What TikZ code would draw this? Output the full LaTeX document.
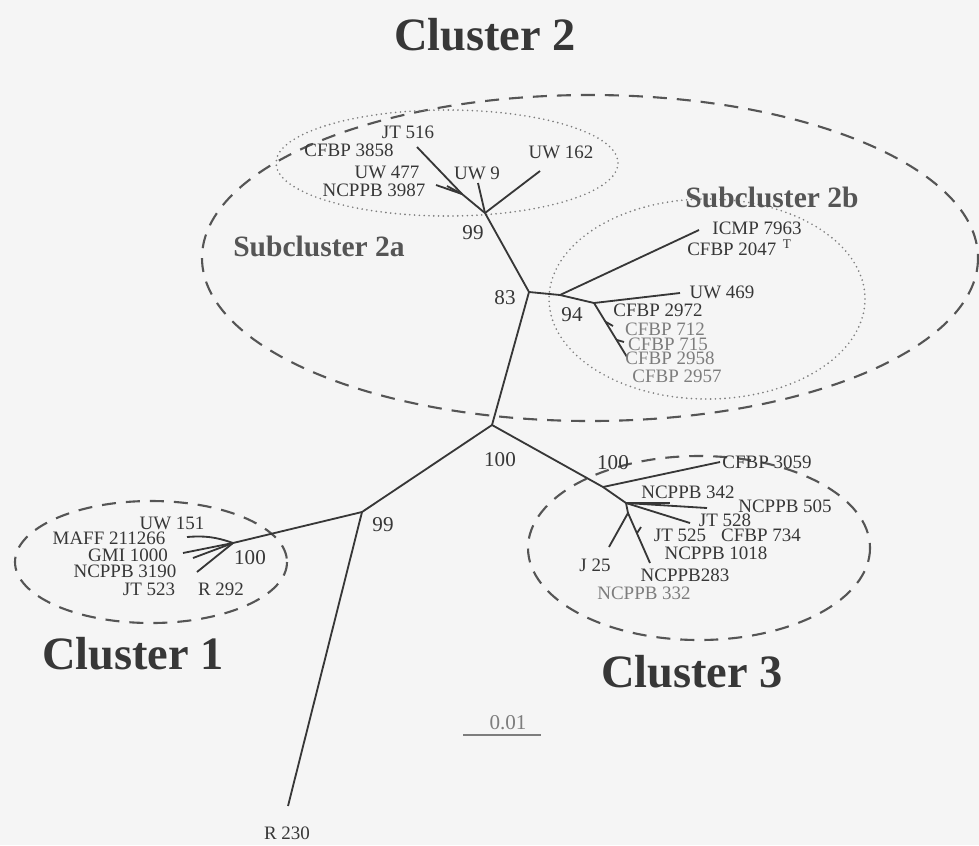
\documentclass[tikz,border=0pt]{standalone}
\usepackage{fontspec}
\setmainfont{Liberation Serif}
\usetikzlibrary{positioning}
\definecolor{ink}{RGB}{55,55,55}
\definecolor{faint}{RGB}{125,125,125}
\definecolor{paper}{RGB}{245,245,245}
\definecolor{hull}{RGB}{85,85,85}

\begin{document}
\begin{tikzpicture}[x=0.25mm, y=-0.25mm,
  branch/.style={draw=ink, line width=1.3pt},
  tip/.style={text=ink, font=\fontsize{13.5}{14}\selectfont, inner sep=0pt},
  tipfaint/.style={tip, text=faint},
  boot/.style={text=ink, font=\fontsize{15}{16}\selectfont, inner sep=0pt},
  sub/.style={text=ink!85, font=\bfseries\fontsize{21}{22}\selectfont, inner sep=0pt},
  clus/.style={text=ink, font=\bfseries\fontsize{33}{35}\selectfont, inner sep=0pt, anchor=base},
  hulldash/.style={draw=hull, line width=1.5pt, dash pattern=on 3.5mm off 2.5mm},
  hulldot/.style={draw=faint, line width=1.3pt, line cap=round, dash pattern=on 0pt off 1.2mm}]
  \fill[paper] (0,0) rectangle (979,845);
  \useasboundingbox (0,0) rectangle (979,845);
  % cluster outlines
  \draw[hulldash] (590,258) ellipse [x radius=388, y radius=163];
  \draw[hulldot]  (447,163) ellipse [x radius=171, y radius=53];
  \draw[hulldot]  (707,299) ellipse [x radius=158, y radius=100];
  \draw[hulldash] (699,548) ellipse [x radius=171, y radius=92];
  \draw[hulldash] (151,562) ellipse [x radius=136, y radius=61];
  % inner nodes
  \coordinate (root) at (492,425);
  \coordinate (n83)  at (529,292);
  \coordinate (n99a) at (485,213);
  \coordinate (n2a)  at (462,194);
  \coordinate (n2b)  at (560,295);
  \coordinate (n94)  at (594,303);
  \coordinate (n712) at (606,322);
  \coordinate (n715) at (617,340);
  \coordinate (n100b) at (603,487);
  \coordinate (n3c)  at (626,503);
  \coordinate (n3d)  at (628,513);
  \coordinate (n525) at (637,533);
  \coordinate (n99c) at (362,512);
  \coordinate (n100a) at (233,543);
  % tips
  \coordinate (e516)  at (417,147);
  \coordinate (e3987) at (436,185);
  \coordinate (e477)  at (447,186);
  \coordinate (e9)    at (478,183);
  \coordinate (e162)  at (540,171);
  \coordinate (e7963) at (699,230);
  \coordinate (e469)  at (680,293);
  \coordinate (e712)  at (613,326);
  \coordinate (e715)  at (624,342);
  \coordinate (e2958) at (627,357);
  \coordinate (e3059) at (720,462);
  \coordinate (e342)  at (670,503);
  \coordinate (e505)  at (707,508);
  \coordinate (e528)  at (690,523);
  \coordinate (e525)  at (641,527);
  \coordinate (ej25)  at (609,547);
  \coordinate (e283)  at (650,563);
  \coordinate (e230)  at (288,806);
  \coordinate (e151)  at (187,537);
  \coordinate (e1000) at (183,553);
  \coordinate (e1000b) at (193,558);
  \coordinate (e3190) at (197,572);
  % branches
  \draw[branch] (root) -- (n83) -- (n99a);
  \draw[branch] (n99a) -- (e162);
  \draw[branch] (n99a) -- (e9);
  \draw[branch] (n99a) -- (n2a) -- (e516);
  \draw[branch] (n2a) -- (e3987);
  \draw[branch] (n2a) -- (e477);
  \draw[branch] (n83) -- (n2b) -- (n94);
  \draw[branch] (n2b) -- (e7963);
  \draw[branch] (n94) -- (e469);
  \draw[branch] (n94) -- (e2958);
  \draw[branch] (n712) -- (e712);
  \draw[branch] (n715) -- (e715);
  \draw[branch] (root) -- (n100b) -- (n3c);
  \draw[branch] (n100b) -- (e3059);
  \draw[branch] (n3c) -- (e342);
  \draw[branch] (n3c) -- (e505);
  \draw[branch] (n3c) -- (e528);
  \draw[branch] (n3c) -- (n3d);
  \draw[branch] (n3d) -- (ej25);
  \draw[branch] (n3d) -- (e283);
  \draw[branch] (n525) -- (e525);
  \draw[branch] (root) -- (n99c) -- (e230);
  \draw[branch] (n99c) -- (n100a);
  \draw[branch] (n100a) to[bend right=12] (e151);
  \draw[branch] (n100a) -- (e1000);
  \draw[branch] (n100a) -- (e1000b);
  \draw[branch] (n100a) -- (e3190);
  % subcluster 2a labels
  \node[tip] (l516)  at (408,132) {JT 516};
  \node[tip] (l3858) at (349,150) {CFBP 3858};
  \node[tip] (l477)  at (387,172) {UW 477};
  \node[tip] (l3987) at (374,190) {NCPPB 3987};
  \node[tip] (l9)    at (477,173) {UW 9};
  \node[tip] (l162)  at (561,152) {UW 162};
  % subcluster 2b labels
  \node[tip] (l7963) at (757,228) {ICMP 7963};
  \node[tip, anchor=west] (l2047) at (687,248) {CFBP 2047\,\,\textsuperscript{T}};
  \node[tip] (l469)  at (722,292) {UW 469};
  \node[tip] (l2972) at (658,310) {CFBP 2972};
  \node[tipfaint] (l712)  at (665,329) {CFBP 712};
  \node[tipfaint] (l715)  at (668,344) {CFBP 715};
  \node[tipfaint] (l2958) at (670,358) {CFBP 2958};
  \node[tipfaint] (l2957) at (677,376) {CFBP 2957};
  % cluster 3 labels
  \node[tip] (l3059) at (767,462) {CFBP 3059};
  \node[tip] (l342)  at (688,492) {NCPPB 342};
  \node[tip] (l505)  at (785,506) {NCPPB 505};
  \node[tip] (l528)  at (725,520) {JT 528};
  \node[tip] (l525)  at (680,535) {JT 525};
  \node[tip] (l734)  at (761,535) {CFBP 734};
  \node[tip] (l1018) at (716,553) {NCPPB 1018};
  \node[tip] (l283)  at (685,575) {NCPPB283};
  \node[tipfaint] (l332) at (644,593) {NCPPB 332};
  \node[tip] (lj25)  at (595,565) {J 25};
  % cluster 1 labels
  \node[tip] (l151)  at (172,523) {UW 151};
  \node[tip] (l211)  at (109,538) {MAFF 211266};
  \node[tip] (l1000) at (128,555) {GMI 1000};
  \node[tip] (l3190) at (125,571) {NCPPB 3190};
  \node[tip] (l523)  at (149,589) {JT 523};
  \node[tip] (l292)  at (221,589) {R 292};
  \node[tip] (l230)  at (287,833) {R 230};
  % bootstrap values
  \node[boot] (b99a) at (473,233) {99};
  \node[boot] (b83)  at (505,298) {83};
  \node[boot] (b94)  at (572,315) {94};
  \node[boot] (b100r) at (500,460) {100};
  \node[boot] (b100b) at (613,463) {100};
  \node[boot] (b99c) at (383,525) {99};
  \node[boot] (b100a) at (250,558) {100};
  % group titles
  \node[clus] (c2) at (485,50)  {Cluster 2};
  \node[clus] (c1) at (133,669) {Cluster 1};
  \node[clus] (c3) at (692,687) {Cluster 3};
  \node[sub] (s2a) at (319,246) {Subcluster 2a};
  \node[sub] (s2b) at (772,197) {Subcluster 2b};
  % scale bar
  \coordinate (sb1) at (463,735);
  \coordinate (sb2) at (541,735);
  \draw[draw=faint, line width=1.2pt] (sb1) -- (sb2);
  \node[tipfaint, font=\fontsize{15}{16}\selectfont] (sbl) at (508,723) {0.01};
\end{tikzpicture}
\end{document}
